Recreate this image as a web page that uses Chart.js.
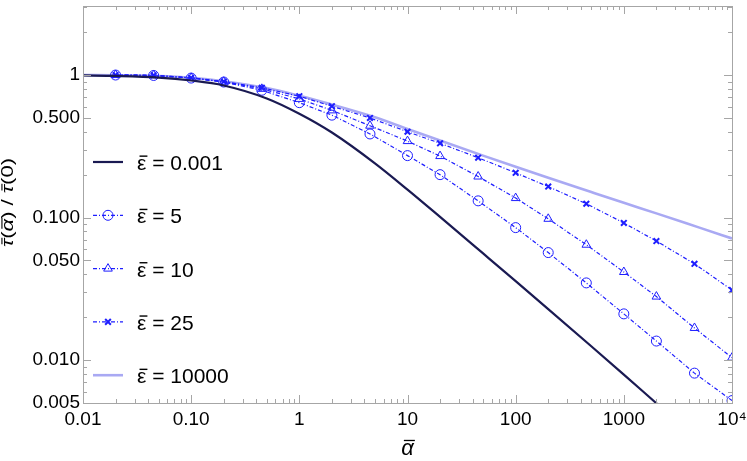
<!DOCTYPE html>
<html>
<head>
<meta charset="utf-8">
<script src="https://cdn.jsdelivr.net/npm/chart.js@4.4.1/dist/chart.umd.min.js"></script>
<style>
html, body { margin: 0; padding: 0; background: #fff; }
</style>
</head>
<body>
<canvas id="chart" width="747" height="461"></canvas>
<script>
// alpha values for the smooth curves and for the marked series
const alphaSmooth = [0.01, 0.02, 0.05, 0.1, 0.2, 0.5, 1, 2, 5, 10, 20, 50, 100, 200, 500, 1000, 2000, 5000, 10000];
const alphaMarks = [0.02, 0.045, 0.1, 0.2, 0.45, 1, 2, 4.5, 10, 20, 45, 100, 200, 450, 1000, 2000, 4500, 10000];

// tau(alpha)/tau(0)
const eps0001 = [0.993, 0.985, 0.96, 0.915, 0.845, 0.685, 0.535, 0.395, 0.24, 0.157, 0.101, 0.056, 0.0358, 0.0228, 0.0125, 0.0079, 0.00498, 0.00271, 0.00171];
const eps5 = [1.0, 0.993, 0.952, 0.893, 0.782, 0.64, 0.523, 0.386, 0.272, 0.2, 0.131, 0.085, 0.0568, 0.0348, 0.0211, 0.0136, 0.0081, 0.0052];
const eps10 = [1.0, 0.995, 0.955, 0.897, 0.80, 0.68, 0.565, 0.441, 0.344, 0.27, 0.194, 0.137, 0.098, 0.0645, 0.0415, 0.0279, 0.0168, 0.0104];
const eps25 = [1.0, 0.996, 0.956, 0.9, 0.815, 0.71, 0.604, 0.5, 0.4, 0.332, 0.263, 0.206, 0.165, 0.125, 0.0916, 0.0684, 0.0474, 0.031];
const eps10000 = [1.0, 0.997, 0.985, 0.957, 0.905, 0.81, 0.715, 0.62, 0.505, 0.418, 0.347, 0.272, 0.227, 0.190, 0.151, 0.127, 0.107, 0.085, 0.0714];

// legend: barred epsilon + value
const seriesValues = ['0.001', '5', '10', '25', '10000'];

// axis ticks
const xMajor = [0.01, 0.1, 1, 10, 100, 1000, 10000];
const xMajorLabels = ['0.01', '0.10', '1', '10', '100', '1000', '10\u2074'];
const yMajor = [0.005, 0.01, 0.05, 0.1, 0.5, 1];
const yMajorLabels = ['0.005', '0.010', '0.050', '0.100', '0.500', '1'];

// axis titles, pieces flagged 1 get an overbar
const xTitleParts = [['\u03B1', 1]];
const yTitleParts = [['\u03C4', 1], ['(', 0], ['\u03B1', 1], [')', 0], [' / ', 0], ['\u03C4', 1], ['(0)', 0]];

const FONT = "'Liberation Sans', Arial, sans-serif";
const NAVY = '#1a1a52';
const BLUE = '#1e1eff';
const LIGHT = '#a9a9f3';

function toPoints(xs, ys) {
    return xs.map((x, i) => ({ x: x, y: ys[i] }));
}

// all decade ticks incl. minor ones (2..9 x 10^k) between lo and hi
function logTicks(lo, hi) {
    const out = [];
    for (let e = -3; e <= 4; e++) {
        for (let m = 1; m <= 9; m++) {
            const v = +(m * Math.pow(10, e)).toPrecision(3);
            if (v >= lo * 0.999 && v <= hi * 1.001) out.push(v);
        }
    }
    return out;
}

function labelFor(v, majors, labels) {
    const i = majors.findIndex(m => Math.abs(m - v) / m < 1e-6);
    return i >= 0 ? labels[i] : '';
}

// draws text pieces along the baseline starting at x, overbar on flagged ones
function drawBarred(ctx, parts, x, y, size, greekItalic) {
    let cx = x;
    parts.forEach(([t, bar]) => {
        const isGreek = /[\u0370-\u03FF]/.test(t);
        ctx.font = (isGreek && greekItalic ? 'italic ' : '') + size + 'px ' + FONT;
        const w = ctx.measureText(t).width;
        ctx.fillText(t, cx, y);
        if (bar) {
            ctx.beginPath();
            ctx.moveTo(cx + 0.12 * size, y - 0.66 * size);
            ctx.lineTo(cx + w + 0.05 * size, y - 0.66 * size);
            ctx.stroke();
        }
        cx += w;
    });
    return cx - x;
}

function partsWidth(ctx, parts, size, greekItalic) {
    return parts.reduce((s, [t]) => {
        const isGreek = /[\u0370-\u03FF]/.test(t);
        ctx.font = (isGreek && greekItalic ? 'italic ' : '') + size + 'px ' + FONT;
        return s + ctx.measureText(t).width;
    }, 0);
}

// box frame with inward ticks on all four sides
const frameTicks = {
    id: 'frameTicks',
    afterDatasetsDraw(chart) {
        const { ctx, chartArea: a, scales } = chart;
        ctx.save();
        ctx.strokeStyle = '#a6a6a6';
        ctx.lineWidth = 1;
        ctx.setLineDash([]);
        ctx.beginPath();
        scales.x.ticks.forEach(t => {
            const px = Math.round(scales.x.getPixelForValue(t.value)) + 0.5;
            const len = labelFor(t.value, xMajor, xMajorLabels) ? 8 : 4;
            ctx.moveTo(px, a.bottom); ctx.lineTo(px, a.bottom - len);
            ctx.moveTo(px, a.top); ctx.lineTo(px, a.top + len);
        });
        scales.y.ticks.forEach(t => {
            const py = Math.round(scales.y.getPixelForValue(t.value)) + 0.5;
            const len = labelFor(t.value, yMajor, yMajorLabels) ? 8 : 4;
            ctx.moveTo(a.left, py); ctx.lineTo(a.left + len, py);
            ctx.moveTo(a.right, py); ctx.lineTo(a.right - len, py);
        });
        ctx.stroke();
        ctx.strokeRect(Math.round(a.left) + 0.5, Math.round(a.top) + 0.5,
            Math.round(a.right - a.left), Math.round(a.bottom - a.top));
        ctx.restore();
    }
};

// axis titles with overbars
const axisTitles = {
    id: 'axisTitles',
    afterDraw(chart) {
        const { ctx, chartArea: a } = chart;
        ctx.save();
        ctx.fillStyle = '#000';
        ctx.strokeStyle = '#000';
        ctx.lineWidth = 1.3;
        ctx.textBaseline = 'alphabetic';
        // x title
        const xs = 22;
        const xw = partsWidth(ctx, xTitleParts, xs, true);
        drawBarred(ctx, xTitleParts, (a.left + a.right) / 2 - xw / 2, 455, xs, true);
        // y title, reads bottom to top
        const ys = 16;
        const yw = partsWidth(ctx, yTitleParts, ys, true);
        const target = 89;
        ctx.translate(12.5, 202.5);
        ctx.rotate(-Math.PI / 2);
        ctx.scale(target / yw, 1);
        ctx.lineWidth = 1.1;
        drawBarred(ctx, yTitleParts, -yw / 2, 0, ys, true);
        ctx.restore();
    }
};

// legend sitting inside the plot, left side
const insideLegend = {
    id: 'insideLegend',
    afterDraw(chart) {
        const ctx = chart.ctx;
        const x0 = 93, x1 = 123, top = 162, gap = 53.3;
        chart.data.datasets.forEach((ds, i) => {
            const y = top + i * gap;
            ctx.save();
            ctx.strokeStyle = ds.borderColor;
            ctx.lineWidth = ds.borderWidth;
            ctx.setLineDash(ds.borderDash || []);
            ctx.beginPath();
            ctx.moveTo(x0, y);
            ctx.lineTo(x1, y);
            ctx.stroke();
            if (ds.pointRadius > 0) {
                ctx.setLineDash([]);
                ctx.strokeStyle = ds.pointBorderColor;
                ctx.fillStyle = ds.pointBackgroundColor;
                ctx.lineWidth = ds.pointBorderWidth;
                Chart.helpers.drawPoint(ctx, {
                    pointStyle: ds.pointStyle, radius: ds.pointRadius,
                    borderWidth: ds.pointBorderWidth, rotation: 0
                }, (x0 + x1) / 2, y);
            }
            ctx.setLineDash([]);
            ctx.fillStyle = '#000';
            ctx.strokeStyle = '#000';
            ctx.lineWidth = 1.4;
            ctx.textBaseline = 'alphabetic';
            drawBarred(ctx, [['\u03B5', 1], [' = ' + seriesValues[i], 0]], 137, y + 8, 21, false);
            ctx.restore();
        });
    }
};

const dashDot = [4, 2, 1, 2];

function markedSeries(label, ys, style, radius, bw) {
    return {
        label: label,
        data: toPoints(alphaMarks, ys),
        borderColor: BLUE,
        borderWidth: 1.2,
        borderDash: dashDot,
        pointStyle: style,
        pointRadius: radius,
        pointBorderWidth: bw,
        pointBorderColor: BLUE,
        pointBackgroundColor: 'rgba(0,0,0,0)',
        tension: 0
    };
}

function noPad(s) {
    s.paddingTop = 0; s.paddingBottom = 0; s.paddingLeft = 0; s.paddingRight = 0;
}

new Chart(document.getElementById('chart'), {
    type: 'line',
    data: {
        datasets: [
            {
                label: 'eps 0.001',
                data: toPoints(alphaSmooth, eps0001),
                borderColor: NAVY,
                borderWidth: 2.2,
                pointRadius: 0,
                cubicInterpolationMode: 'monotone'
            },
            markedSeries('eps 5', eps5, 'circle', 5, 1),
            markedSeries('eps 10', eps10, 'triangle', 5, 1),
            markedSeries('eps 25', eps25, 'crossRot', 4, 2),
            {
                label: 'eps 10000',
                data: toPoints(alphaSmooth, eps10000),
                borderColor: LIGHT,
                borderWidth: 2.6,
                pointRadius: 0,
                cubicInterpolationMode: 'monotone'
            }
        ]
    },
    options: {
        responsive: false,
        animation: false,
        layout: { padding: { top: 2, right: 15, left: 0, bottom: 0 } },
        plugins: { legend: { display: false }, tooltip: { enabled: false } },
        scales: {
            x: {
                type: 'logarithmic',
                min: 0.01,
                max: 10000,
                grid: { display: false, drawTicks: false },
                border: { display: false },
                afterBuildTicks: s => { s.ticks = logTicks(0.01, 10000).map(v => ({ value: v })); },
                afterFit: s => { s.height = 58; noPad(s); },
                ticks: {
                    autoSkip: false,
                    maxRotation: 0,
                    padding: 5,
                    color: '#000',
                    font: { family: FONT, size: 19 },
                    callback: v => labelFor(v, xMajor, xMajorLabels)
                }
            },
            y: {
                type: 'logarithmic',
                min: 0.005,
                max: 3.05,
                grid: { display: false, drawTicks: false },
                border: { display: false },
                afterBuildTicks: s => { s.ticks = logTicks(0.005, 3.05).map(v => ({ value: v })); },
                afterFit: s => { s.width = 83; noPad(s); },
                ticks: {
                    autoSkip: false,
                    padding: 3,
                    color: '#000',
                    font: { family: FONT, size: 19 },
                    callback: v => labelFor(v, yMajor, yMajorLabels)
                }
            }
        }
    },
    plugins: [frameTicks, axisTitles, insideLegend]
});
</script>
</body>
</html>
